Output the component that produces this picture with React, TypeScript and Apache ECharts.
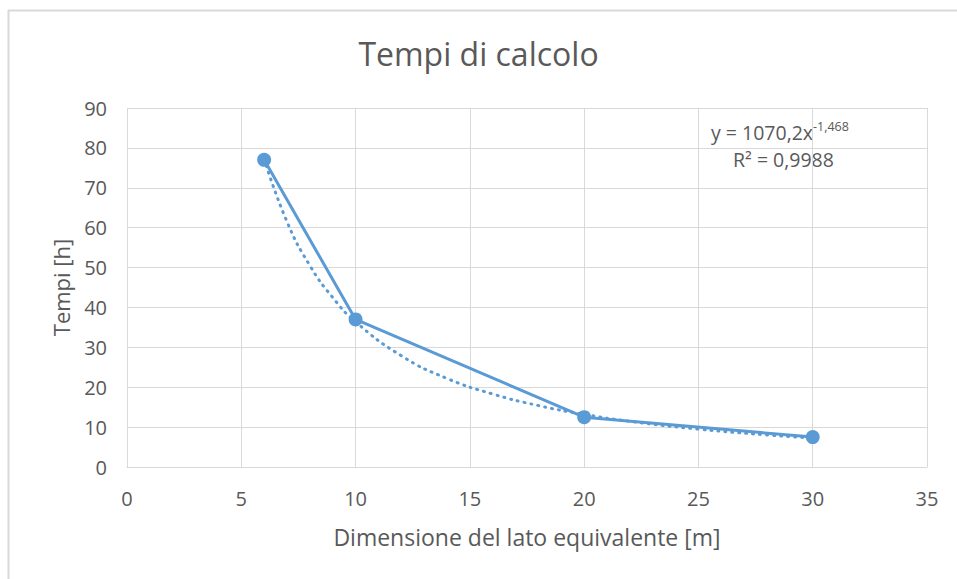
import React, { useEffect, useRef } from "react";
import * as echarts from "echarts";

const titleText = "Tempi di calcolo";
const xName = "Dimensione del lato equivalente [m]";
const yName = "Tempi [h]";
const sizes = [6, 10, 20, 30];
const hours = [77, 37, 12.5, 7.5];
const trendX = [6, 7, 8, 9, 10, 12, 14, 16, 18, 20, 22, 25, 28, 30];
const trendY = [77.2, 61.5, 50.5, 42.5, 36.4, 27.9, 22.2, 18.3, 15.4, 13.2, 11.45, 9.5, 8.04, 7.26];
const equation = "y = 1070,2x";
const exponent = "-1,468";
const r2 = "R² = 0,9988";

const FONT = "'Open Sans', 'Noto Sans', sans-serif";
const TEXT = "#595959";
const GRID = "#d9d9d9";
const BLUE = "#5b9bd5";

export default function App() {
  const ref = useRef<HTMLDivElement>(null);
  useEffect(() => {
    if (!ref.current) return;
    const chart = echarts.init(ref.current, null, { renderer: "svg" });
    chart.setOption({
      animation: false,
      backgroundColor: "#ffffff",
      title: {
        text: titleText,
        left: "center",
        top: 32,
        textStyle: { fontFamily: FONT, fontSize: 32, fontWeight: "normal", color: TEXT },
      },
      grid: { left: 127, right: 30, top: 108, bottom: 112 },
      xAxis: {
        type: "value",
        min: 0,
        max: 35,
        interval: 5,
        name: xName,
        nameLocation: "middle",
        nameGap: 58,
        nameTextStyle: { fontFamily: FONT, fontSize: 23, color: TEXT },
        axisLine: { show: true, lineStyle: { color: GRID, width: 1 } },
        axisTick: { show: false },
        axisLabel: { fontFamily: FONT, fontSize: 20, color: TEXT, margin: 21 },
        splitLine: { show: true, lineStyle: { color: GRID, width: 1 } },
      },
      yAxis: {
        type: "value",
        min: 0,
        max: 90,
        interval: 10,
        name: yName,
        nameLocation: "middle",
        nameGap: 55,
        nameTextStyle: { fontFamily: FONT, fontSize: 22, color: TEXT },
        axisLine: { show: false },
        axisTick: { show: false },
        axisLabel: { fontFamily: FONT, fontSize: 20, color: TEXT, margin: 20 },
        splitLine: { show: true, lineStyle: { color: GRID, width: 1 } },
      },
      series: [
        {
          type: "line",
          data: trendX.map((x, i) => [x, trendY[i]]),
          smooth: true,
          showSymbol: false,
          symbol: "none",
          lineStyle: { color: BLUE, width: 3, type: [1, 6], cap: "round" },
          z: 2,
        },
        {
          type: "line",
          data: sizes.map((x, i) => [x, hours[i]]),
          symbol: "circle",
          symbolSize: 14,
          itemStyle: { color: BLUE },
          lineStyle: { color: BLUE, width: 3 },
          z: 3,
        },
      ],
      graphic: [
        { type: "line", shape: { x1: 8.5, y1: 10, x2: 8.5, y2: 579 }, style: { stroke: GRID, lineWidth: 2 } },
        { type: "line", shape: { x1: 8, y1: 10.5, x2: 957, y2: 10.5 }, style: { stroke: GRID, lineWidth: 2 } },
        {
          type: "text",
          left: 711,
          top: 120,
          style: {
            text: `{m|${equation}}{s|${exponent}}`,
            rich: {
              m: { fontFamily: FONT, fontSize: 19.5, fill: TEXT, lineHeight: 22, verticalAlign: "bottom" },
              s: { fontFamily: FONT, fontSize: 12.5, fill: TEXT, lineHeight: 22, verticalAlign: "top" },
            },
          },
        },
        {
          type: "text",
          left: 733,
          top: 149,
          style: { text: r2, fontFamily: FONT, fontSize: 19.5, fill: TEXT },
        },
      ],
    });
    return () => chart.dispose();
  }, []);
  return <div ref={ref} style={{ position: "fixed", left: 0, top: 0, width: 957, height: 579 }} />;
}
